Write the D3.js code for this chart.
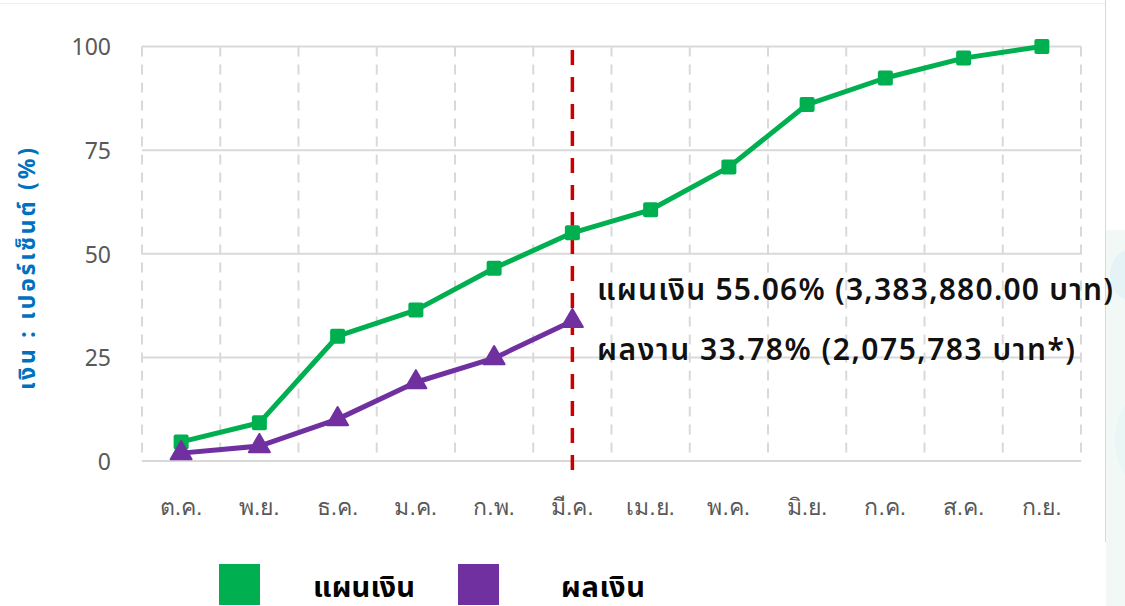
<!DOCTYPE html>
<html><head><meta charset="utf-8">
<script src="https://cdn.jsdelivr.net/npm/d3@7"></script>
<style>
html,body{margin:0;padding:0;background:#fff;}
svg{display:block;font-family:"Noto Sans","Noto Sans Thai",sans-serif;}
</style></head>
<body>
<svg id="chart" width="1125" height="606"></svg>
<script>
const months = ["ต.ค.","พ.ย.","ธ.ค.","ม.ค.","ก.พ.","มี.ค.","เม.ย.","พ.ค.","มิ.ย.","ก.ค.","ส.ค.","ก.ย."];
const planValues = [4.6, 9.2, 30.1, 36.4, 46.5, 55.06, 60.6, 70.9, 86.0, 92.4, 97.2, 100];
const actualValues = [1.9, 3.6, 10.1, 19.0, 24.8, 33.78];
const yTicks = [0, 25, 50, 75, 100];
const seriesNames = ["แผนเงิน", "ผลเงิน"];
const currentMonth = "มี.ค.";
const annotations = ["แผนเงิน 55.06% (3,383,880.00 บาท)", "ผลงาน 33.78% (2,075,783 บาท*)"];
const yTitle = "เงิน : เปอร์เซ็นต์ (%)";

const svg = d3.select("#chart");
const m = {left:142, right:1081, top:46.5, bottom:461};
const x = d3.scaleBand().domain(months).range([m.left, m.right]);
const y = d3.scaleLinear().domain([0,100]).range([m.bottom, m.top]);
const cx = d => x(d) + x.bandwidth()/2;

// background at right
svg.append("rect").attr("x",1106).attr("y",230).attr("width",19).attr("height",376).attr("fill","#f2f8f6");
svg.append("ellipse").attr("cx",1130).attr("cy",275).attr("rx",20).attr("ry",25).attr("fill","#e5f3f6");
svg.append("ellipse").attr("cx",1135).attr("cy",440).attr("rx",20).attr("ry",40).attr("fill","#eaf5f6");
// frame lines
svg.append("line").attr("x1",0).attr("x2",1105).attr("y1",3.5).attr("y2",3.5).attr("stroke","#eeeeee").attr("stroke-width",1);
svg.append("line").attr("x1",1105.5).attr("x2",1105.5).attr("y1",0).attr("y2",542).attr("stroke","#d9d9d9").attr("stroke-width",1);

// grid vertical dashed
const bounds = months.map(d=>x(d)).concat([m.right]);
svg.append("g").selectAll("line").data(bounds).join("line")
  .attr("x1",d=>d).attr("x2",d=>d).attr("y1",m.top).attr("y2",m.bottom)
  .attr("stroke","#d9d9d9").attr("stroke-width",2).attr("stroke-dasharray","10,8");
// horizontal solid grid
svg.append("g").selectAll("line").data(yTicks).join("line")
  .attr("x1",m.left).attr("x2",m.right).attr("y1",d=>y(d)).attr("y2",d=>y(d))
  .attr("stroke","#d9d9d9").attr("stroke-width",2);

// y axis labels
const yAxis = d3.axisLeft(y).tickValues(yTicks).tickSize(0).tickPadding(31);
const ya = svg.append("g").attr("transform",`translate(${m.left},0)`).call(yAxis);
ya.select(".domain").remove();
ya.selectAll("text").attr("fill","#595959").style("font-size","23px").style("font-family","'Noto Sans',sans-serif").attr("dy","0.36em");

// x axis labels
const xAxis = d3.axisBottom(x).tickSize(0);
const xa = svg.append("g").attr("transform",`translate(0,${m.bottom})`).call(xAxis);
xa.select(".domain").remove();
xa.selectAll("text").attr("fill","#595959").style("font-size","23px").attr("y",54).attr("dy",0);

// y title
svg.append("text").attr("transform","translate(35,269) rotate(-90)")
  .attr("text-anchor","middle").attr("fill","#0070c0").style("font-size","23px").style("font-weight","bold")
  .attr("textLength",242).attr("lengthAdjust","spacing")
  .text(yTitle);

// red dashed current line
svg.append("line").attr("x1",cx(currentMonth)).attr("x2",cx(currentMonth)).attr("y1",50).attr("y2",472)
  .attr("stroke","#cc0000").attr("stroke-width",3.5).attr("stroke-dasharray","15,12");

const green = "#00b050", purple = "#7030a0";
const line = d3.line().x((d,i)=>cx(months[i])).y(d=>y(d));
svg.append("path").datum(planValues).attr("d",line).attr("fill","none").attr("stroke",green).attr("stroke-width",5).attr("stroke-linejoin","round");
svg.append("path").datum(actualValues).attr("d",line).attr("fill","none").attr("stroke",purple).attr("stroke-width",5).attr("stroke-linejoin","round");

svg.append("g").selectAll("rect").data(planValues).join("rect")
  .attr("x",(d,i)=>cx(months[i])-7.5).attr("y",d=>y(d)-7.5).attr("width",15).attr("height",15).attr("rx",2)
  .attr("fill",green);
const tri = d3.symbol().type(d3.symbolTriangle).size(190);
svg.append("g").selectAll("path").data(actualValues).join("path")
  .attr("transform",(d,i)=>`translate(${cx(months[i])},${y(d)})`).attr("d",tri)
  .attr("fill",purple).attr("stroke",purple).attr("stroke-width",2).attr("stroke-linejoin","round");

// annotations
const annLens = [516, 478];
svg.append("g").selectAll("text").data(annotations).join("text")
  .attr("x",597).attr("y",(d,i)=>300+i*60).attr("fill","#111").style("font-size","30px").style("font-weight","600")
  .attr("textLength",(d,i)=>annLens[i]).attr("lengthAdjust","spacing")
  .text(d=>d);

// legend
const legendColors = [green, purple];
const legendBox = [219, 458];
const legendText = [313, 561];
const legendLen = [102, 84];
const lg = svg.append("g");
seriesNames.forEach((n,i)=>{
  lg.append("rect").attr("x",legendBox[i]).attr("y",564).attr("width",41).attr("height",41).attr("fill",legendColors[i]);
  lg.append("text").attr("x",legendText[i]).attr("y",597).attr("fill","#000").style("font-size","29px").style("font-weight","bold")
    .attr("textLength",legendLen[i]).attr("lengthAdjust","spacing").text(n);
});
</script>
</body></html>
